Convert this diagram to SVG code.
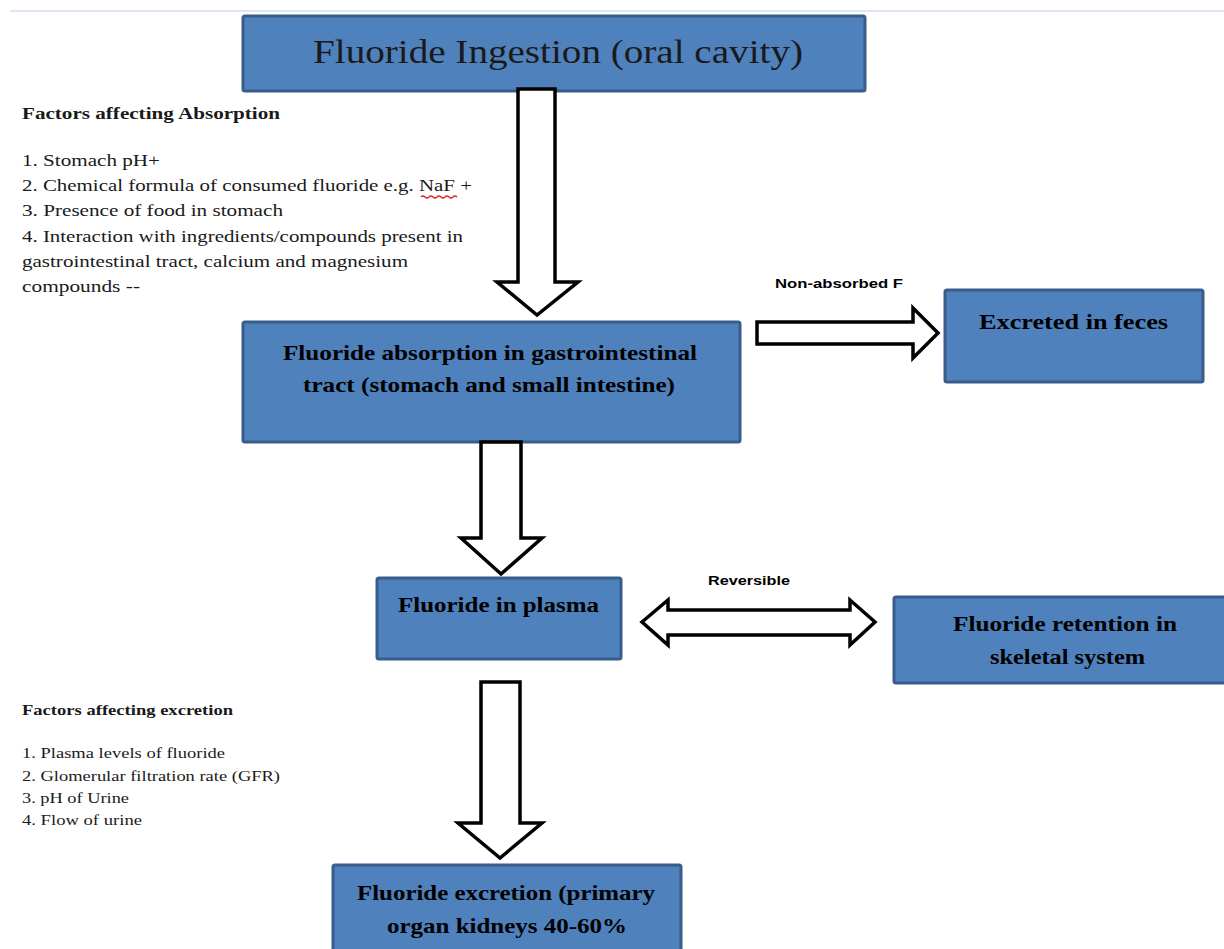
<svg xmlns="http://www.w3.org/2000/svg" width="1224" height="949" viewBox="0 0 1224 949">
<style>
.box{fill:#4f81bd;stroke:#385d8a;stroke-width:3}
.arr{fill:#ffffff;stroke:#000000;stroke-width:3.5;stroke-linejoin:miter}
.nt{font-family:"Liberation Serif",serif;font-weight:bold;fill:#000000}
.lt{font-family:"Liberation Serif",serif;fill:#1a1a1a}
.lh{font-family:"Liberation Serif",serif;font-weight:bold;fill:#1a1a1a}
.el{font-family:"Liberation Sans",Arial,sans-serif;font-weight:bold;fill:#000000;font-size:12.5px}
</style>
<rect width="1224" height="949" fill="#ffffff"/>
<line x1="10" y1="11" x2="1224" y2="11" stroke="#dde7f3" stroke-width="2"/>

<g id="node-ingestion">
<rect class="box" x="243" y="16" width="622" height="75" rx="2"/>
<text class="lt" x="313" y="63" font-size="33" textLength="490" lengthAdjust="spacingAndGlyphs" fill="#000">Fluoride Ingestion (oral cavity)</text>
</g>

<g id="factors-absorption">
<text class="lh" x="22" y="119" font-size="17" textLength="258" lengthAdjust="spacingAndGlyphs">Factors affecting Absorption</text>
<text class="lt" x="22" y="166" font-size="17" textLength="138" lengthAdjust="spacingAndGlyphs">1. Stomach pH+</text>
<text class="lt" x="22" y="191" font-size="17" textLength="450" lengthAdjust="spacingAndGlyphs">2. Chemical formula of consumed fluoride e.g. NaF +</text>
<path d="M421 197 q2 -2 4 0 t4 0 t4 0 t4 0 t4 0 t4 0 t4 0 t4 0 t4 0" fill="none" stroke="#e02020" stroke-width="1.2"/>
<text class="lt" x="22" y="216" font-size="17" textLength="261" lengthAdjust="spacingAndGlyphs">3. Presence of food in stomach</text>
<text class="lt" x="22" y="242" font-size="17" textLength="441" lengthAdjust="spacingAndGlyphs">4. Interaction with ingredients/compounds present in</text>
<text class="lt" x="22" y="267" font-size="17" textLength="386" lengthAdjust="spacingAndGlyphs">gastrointestinal tract, calcium and magnesium</text>
<text class="lt" x="22" y="292" font-size="17" textLength="118" lengthAdjust="spacingAndGlyphs">compounds --</text>
</g>

<g id="node-absorption">
<rect class="box" x="243" y="322" width="497" height="120" rx="2"/>
<text class="nt" x="283" y="360" font-size="21" textLength="414" lengthAdjust="spacingAndGlyphs">Fluoride absorption in gastrointestinal</text>
<text class="nt" x="303" y="392" font-size="21" textLength="372" lengthAdjust="spacingAndGlyphs">tract (stomach and small intestine)</text>
</g>

<g id="node-feces">
<rect class="box" x="945" y="290" width="258" height="92" rx="2"/>
<text class="nt" x="979" y="329" font-size="21" textLength="189" lengthAdjust="spacingAndGlyphs">Excreted in feces</text>
</g>

<g id="node-plasma">
<rect class="box" x="377" y="578" width="244" height="81" rx="2"/>
<text class="nt" x="398" y="612" font-size="21" textLength="201" lengthAdjust="spacingAndGlyphs">Fluoride in plasma</text>
</g>

<g id="node-retention">
<rect class="box" x="894" y="597" width="340" height="86" rx="2"/>
<text class="nt" x="953" y="631" font-size="21" textLength="224" lengthAdjust="spacingAndGlyphs">Fluoride retention in</text>
<text class="nt" x="990" y="664" font-size="21" textLength="155" lengthAdjust="spacingAndGlyphs">skeletal system</text>
</g>

<g id="factors-excretion">
<text class="lh" x="22" y="715" font-size="15" textLength="211" lengthAdjust="spacingAndGlyphs">Factors affecting excretion</text>
<text class="lt" x="22" y="758" font-size="15" textLength="203" lengthAdjust="spacingAndGlyphs">1. Plasma levels of fluoride</text>
<text class="lt" x="22" y="781" font-size="15" textLength="258" lengthAdjust="spacingAndGlyphs">2. Glomerular filtration rate (GFR)</text>
<text class="lt" x="22" y="803" font-size="15" textLength="107" lengthAdjust="spacingAndGlyphs">3. pH of Urine</text>
<text class="lt" x="22" y="825" font-size="15" textLength="120" lengthAdjust="spacingAndGlyphs">4. Flow of urine</text>
</g>

<g id="node-excretion">
<rect class="box" x="333" y="865" width="348" height="100" rx="2"/>
<text class="nt" x="357" y="900" font-size="21" textLength="298" lengthAdjust="spacingAndGlyphs">Fluoride excretion (primary</text>
<text class="nt" x="387" y="933" font-size="21" textLength="240" lengthAdjust="spacingAndGlyphs">organ kidneys 40-60%</text>
</g>

<g id="connectors">
<polygon class="arr" points="518,89 555,89 555,282 578,282 537,315 497,282 518,282"/>
<polygon class="arr" points="481,442 521,442 521,538 542,538 501,574 461,538 481,538"/>
<polygon class="arr" points="481,682 520,682 520,823 542,823 500,858 458,823 481,823"/>
<polygon class="arr" points="757,322 913,322 913,308 938,333 913,358 913,344 757,344"/>
<polygon class="arr" points="642,622 668,600 668,610 850,610 850,600 875,622 850,645 850,635 668,635 668,645"/>
<text class="el" x="775" y="288" textLength="128" lengthAdjust="spacingAndGlyphs">Non-absorbed F</text>
<text class="el" x="708" y="585" textLength="82" lengthAdjust="spacingAndGlyphs">Reversible</text>
</g>
</svg>
